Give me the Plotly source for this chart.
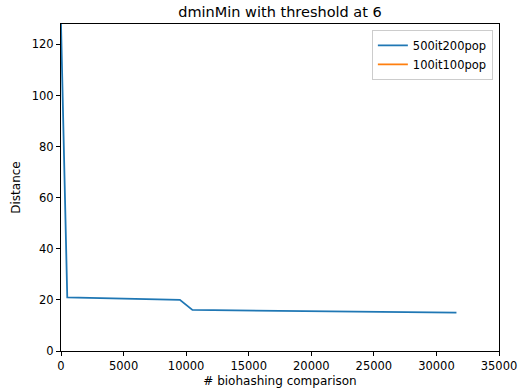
import plotly.graph_objects as go

# Data
x_500it200pop = [0, 500, 9500, 10000, 10500, 31600]
y_500it200pop = [128, 21, 20, 18.2, 16.1, 15.0]
x_100it100pop = [None]
y_100it100pop = [None]

x_ticks = [0, 5000, 10000, 15000, 20000, 25000, 30000, 35000]
y_ticks = [0, 20, 40, 60, 80, 100, 120]

fig = go.Figure()
fig.add_trace(go.Scatter(x=x_500it200pop, y=y_500it200pop, mode="lines",
                         name="500it200pop", showlegend=True,
                         line=dict(color="#1f77b4", width=1.8)))
fig.add_trace(go.Scatter(x=x_100it100pop, y=y_100it100pop, mode="lines",
                         name="100it100pop", showlegend=True,
                         line=dict(color="#ff7f0e", width=1.8)))

font = "DejaVu Sans"
fig.update_layout(
    width=522, height=392,
    margin=dict(l=61, r=23, t=24, b=41, autoexpand=False),
    paper_bgcolor="white", plot_bgcolor="white",
    font=dict(family=font, size=11.5, color="black"),
    title=dict(text="dminMin with threshold at 6", x=(61 + 499) / 2 / 522, xanchor="center",
               y=1 - 12 / 392, yanchor="middle", font=dict(size=14.5, family=font)),
    showlegend=True,
    legend=dict(x=0.986, y=0.982, xanchor="right", yanchor="top",
                bordercolor="#cccccc", borderwidth=1, bgcolor="rgba(255,255,255,0.8)",
                font=dict(size=11.5, family=font), itemwidth=30,
                tracegroupgap=0),
)
fig.update_xaxes(range=[0, 35000], tickvals=x_ticks, ticktext=[str(v) for v in x_ticks],
                 automargin=False,
                 showgrid=False, zeroline=False, showline=True, linecolor="black", linewidth=1,
                 mirror=True, ticks="outside", ticklen=4, tickcolor="black",
                 title=dict(text="# biohashing comparison", font=dict(size=12), standoff=4))
fig.update_yaxes(range=[0, 128], tickvals=y_ticks, ticktext=[str(v) for v in y_ticks],
                 automargin=False,
                 showgrid=False, zeroline=False, showline=True, linecolor="black", linewidth=1,
                 mirror=True, ticks="outside", ticklen=4, tickcolor="black",
                 title=dict(text="Distance", font=dict(size=12), standoff=8))

fig.write_html("out.html", config={"displayModeBar": False},
               post_script="document.body.style.margin='0';")
